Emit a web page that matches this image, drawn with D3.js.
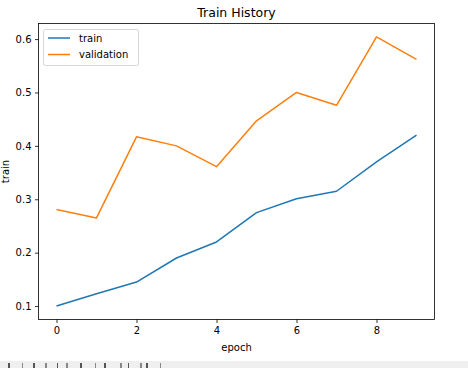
<!DOCTYPE html>
<html><head><meta charset="utf-8">
<script src="https://cdn.jsdelivr.net/npm/d3@7"></script>
<style>body{margin:0;background:#fff;}svg{display:block;font-family:"DejaVu Sans",sans-serif;}</style>
</head><body>
<script>
const epochs = [0,1,2,3,4,5,6,7,8,9];
const trainValues = [0.100,0.123,0.145,0.190,0.220,0.275,0.301,0.315,0.370,0.420];
const validationValues = [0.281,0.265,0.417,0.400,0.361,0.447,0.500,0.476,0.604,0.562];
const xTicks = [0,2,4,6,8];
const yTicks = [0.1,0.2,0.3,0.4,0.5,0.6];
const seriesNames = ["train","validation"];
const colors = ["#1f77b4","#ff7f0e"];

const W=468,H=368;
const svg=d3.select("body").append("svg").attr("width",W).attr("height",H);
svg.append("rect").attr("width",W).attr("height",H).attr("fill","#fff");
const L=38.5,R=434.5,T=23.5,B=319.5;
const x=d3.scaleLinear().domain([-0.45,9.45]).range([L,R]);
const all=trainValues.concat(validationValues);
const mn=d3.min(all),mx=d3.max(all),pad=(mx-mn)*0.05;
const y=d3.scaleLinear().domain([mn-pad,mx+pad]).range([B,T]);

const line=d3.line().x((d,i)=>x(epochs[i])).y(d=>y(d));
[trainValues,validationValues].forEach((vals,k)=>{
  svg.append("path").attr("d",line(vals)).attr("fill","none").attr("stroke",colors[k]).attr("stroke-width",1.5).attr("stroke-linejoin","round");
});

const xa=svg.append("g").attr("transform",`translate(0,${B})`).call(d3.axisBottom(x).tickValues(xTicks).tickFormat(d3.format("d")).tickSize(3.5).tickPadding(3.5));
const ya=svg.append("g").attr("transform",`translate(${L},0)`).call(d3.axisLeft(y).tickValues(yTicks).tickFormat(d3.format(".1f")).tickSize(3.5).tickPadding(3.5));
[xa,ya].forEach(a=>{a.select(".domain").remove();a.selectAll("text").attr("font-size",10).attr("fill","#000").attr("font-family","DejaVu Sans");a.selectAll("line").attr("stroke","#000").attr("stroke-width",0.8);});

svg.append("rect").attr("x",L).attr("y",T).attr("width",R-L).attr("height",B-T).attr("fill","none").attr("stroke","#000").attr("stroke-width",0.8);

svg.append("text").attr("x",(L+R)/2).attr("y",17).attr("text-anchor","middle").attr("font-size",12.5).text("Train History");
svg.append("text").attr("x",(L+R)/2).attr("y",351).attr("text-anchor","middle").attr("font-size",10).text("epoch");
svg.append("text").attr("transform",`translate(9,${(T+B)/2}) rotate(-90)`).attr("text-anchor","middle").attr("font-size",10).text("train");

const lg=svg.append("g");
lg.append("rect").attr("x",43.5).attr("y",29.5).attr("width",95).attr("height",36).attr("rx",2).attr("fill","#fff").attr("fill-opacity",0.8).attr("stroke","#ccc").attr("stroke-width",0.8);
seriesNames.forEach((n,k)=>{
  const yy=38+k*16.5;
  lg.append("line").attr("x1",48).attr("x2",70).attr("y1",yy).attr("y2",yy).attr("stroke",colors[k]).attr("stroke-width",1.5);
  lg.append("text").attr("x",79).attr("y",yy+3.5).attr("font-size",10).text(n);
});

// toolbar strip
svg.append("rect").attr("x",0).attr("y",361).attr("width",W).attr("height",7).attr("fill","#efefef");
[8,22,33,45,57,66,80,95,104,120,128,140,146,160].forEach((px,i)=>{
  svg.append("rect").attr("x",px).attr("y",363).attr("width",i%3===1?1:2).attr("height",5).attr("fill",i%2?"#888":"#555");
});
</script>
</body></html>
